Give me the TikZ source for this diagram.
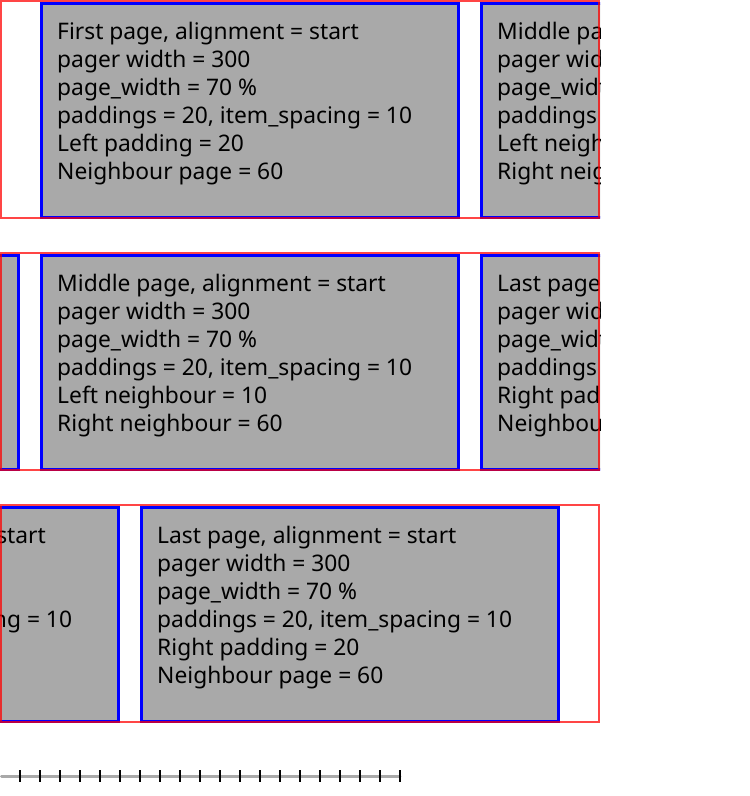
\documentclass[tikz,border=0pt]{standalone}
\usepackage{fontspec}
\setmainfont{Noto Sans}
\definecolor{pagegray}{RGB}{169,169,169}
\definecolor{framered}{RGB}{255,0,0}
\newcommand\pagebox[4]{%
  \draw[pagestyle] (#2+1.5,#3+3.5) rectangle (#2+418.5,#3+217.5);
  \foreach \t [count=\i] in {#4}
    \node[txt] (#1-\i) at (#2+17,#3+39+28*\i-28) {\t};
}
\begin{document}
\begin{tikzpicture}[x=1pt,y=-1pt,
  pagestyle/.style={fill=pagegray, draw=blue, line width=3pt},
  frame/.style={draw=framered, draw opacity=0.73, line width=2pt},
  txt/.style={anchor=base west, inner sep=0pt, font=\fontsize{22.8}{28}\selectfont},
  rulerline/.style={draw=pagegray, line width=3pt, line cap=round},
  tick/.style={draw=black, line width=2pt}]
\useasboundingbox (0,0) rectangle (750,796);
% row 1
\begin{scope}
  \clip (0,0) rectangle (600,796);
  \pagebox{a}{40}{0}{{First page, alignment = start},{pager width = 300},{page\_width = 70 \%},{paddings = 20, item\_spacing = 10},{Left padding = 20},{Neighbour page = 60}}
  \pagebox{b}{480}{0}{{Middle page, alignment = start},{pager width = 300},{page\_width = 70 \%},{paddings = 20, item\_spacing = 10},{Left neighbour = 10},{Right neighbour = 60}}
\end{scope}
\draw[frame] (1,1) rectangle (599,218);
% row 2
\begin{scope}
  \clip (0,0) rectangle (600,796);
  \pagebox{c}{-400}{252}{}
  \pagebox{d}{40}{252}{{Middle page, alignment = start},{pager width = 300},{page\_width = 70 \%},{paddings = 20, item\_spacing = 10},{Left neighbour = 10},{Right neighbour = 60}}
  \pagebox{e}{480}{252}{{Last page, alignment = start},{pager width = 300},{page\_width = 70 \%},{paddings = 20, item\_spacing = 10},{Right padding = 20},{Neighbour page = 60}}
\end{scope}
\draw[frame] (1,253) rectangle (599,470);
% row 3
\begin{scope}
  \clip (0,0) rectangle (600,796);
  \pagebox{f}{-300}{504}{{Middle page, alignment = start},{pager width = 300},{page\_width = 70 \%},{paddings = 20, item\_spacing = 10},{Left neighbour = 10},{Right neighbour = 60}}
  \pagebox{g}{140}{504}{{Last page, alignment = start},{pager width = 300},{page\_width = 70 \%},{paddings = 20, item\_spacing = 10},{Right padding = 20},{Neighbour page = 60}}
\end{scope}
\draw[frame] (1,505) rectangle (599,722);
% ruler
\coordinate (r0) at (1.5,776.5);
\coordinate (r1) at (400,776.5);
\draw[rulerline] (r0) -- (r1);
\foreach \k in {1,...,20}
  \draw[tick] (20*\k,770) -- (20*\k,782);
\end{tikzpicture}
\end{document}
